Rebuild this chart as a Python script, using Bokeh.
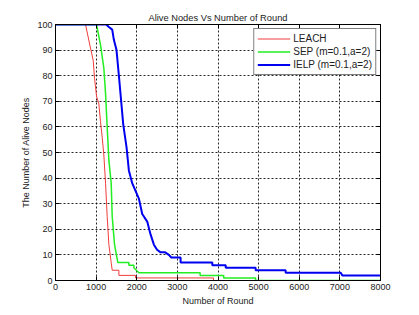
from bokeh.plotting import figure
from bokeh.models import LinearAxis, Legend, LegendItem, FixedTicker, Range1d, CustomJSTickFormatter
from bokeh.embed import file_html
from bokeh.resources import INLINE

# LEACH (vertices of the curve)
leach_rounds = [0, 739, 845, 928, 961, 1010, 1067, 1108, 1149, 1190, 1232, 1272, 1314, 1371, 1396, 1560, 1560, 1970, 1970, 3890, 3890, 8000]
leach_alive = [100, 100, 92, 86, 79, 72, 69, 62, 56, 49, 38, 25, 14, 7, 4, 4, 2, 2, 1, 1, 0, 0]
# SEP (m=0.1, a=2)
sep_rounds = [0, 1010, 1108, 1190, 1232, 1272, 1314, 1371, 1396, 1453, 1535, 1806, 1806, 1929, 1929, 1990, 2052, 3560, 3560, 4140, 4140, 4925, 4925, 8000]
sep_alive = [100, 100, 92, 83, 73, 60, 47, 38, 25, 14, 7, 7, 6, 6, 5, 4, 3, 3, 2, 2, 1, 1, 0, 0]
# IELP (m=0.1, a=2)
ielp_rounds = [0, 1250, 1314, 1396, 1437, 1502, 1560, 1617, 1667, 1749, 1806, 1888, 1970, 2052, 2135, 2258, 2340, 2422, 2500, 2586, 2700, 2791, 2850, 3079, 3079, 3860, 3860, 4190, 4190, 4926, 4926, 5665, 5665, 7020, 7060, 8000]
ielp_alive = [100, 100, 99, 98, 94, 90, 80, 70, 61, 52, 43, 38, 35, 32, 26, 23, 18, 14, 12, 11, 11, 10, 9, 9, 7, 7, 6, 6, 5, 5, 4, 4, 3, 3, 2, 2]

x_ticks = [0, 1000, 2000, 3000, 4000, 5000, 6000, 7000, 8000]
y_ticks = [0, 10, 20, 30, 40, 50, 60, 70, 80, 90, 100]

FONT = "Liberation Sans"

p = figure(width=419, height=315, output_backend="svg", toolbar_location=None,
           x_range=Range1d(0, 8000), y_range=Range1d(0, 100),
           x_axis_location=None, y_axis_location=None,
           min_border_left=55, min_border_right=39, min_border_top=24, min_border_bottom=35,
           title="Alive Nodes Vs Number of Round")
p.background_fill_color = "white"
p.border_fill_color = "white"
p.outline_line_color = "black"
p.outline_line_width = 1
p.title.align = "center"
p.title.text_font = FONT
p.title.text_font_size = "9.3px"
p.title.text_font_style = "normal"
p.title.text_color = "#222222"
p.title.offset = 0
p.title.standoff = 4

def mk_axis(loc, ticks, label=None, show_labels=True):
    ax = LinearAxis(ticker=FixedTicker(ticks=ticks))
    ax.major_tick_in = 4
    ax.major_tick_out = 0
    ax.minor_tick_line_color = None
    ax.axis_line_color = "black"
    ax.major_tick_line_color = "black"
    ax.major_label_text_font = FONT
    ax.major_label_text_font_size = "9px"
    ax.major_label_text_color = "#222222"
    ax.major_label_standoff = 3
    if not show_labels:
        ax.formatter = CustomJSTickFormatter(code="return ''")
        ax.major_label_standoff = 0
    if label:
        ax.axis_label = label
        ax.axis_label_text_font = FONT
        ax.axis_label_text_font_size = "9px"
        ax.axis_label_text_font_style = "normal"
        ax.axis_label_text_color = "#222222"
        ax.axis_label_standoff = 3
    p.add_layout(ax, loc)
    return ax

mk_axis("below", x_ticks, "Number of Round")
mk_axis("left", y_ticks, "The Number of Alive Nodes")
mk_axis("above", x_ticks, show_labels=False)
mk_axis("right", y_ticks, show_labels=False)

p.xgrid.ticker = FixedTicker(ticks=x_ticks)
p.ygrid.ticker = FixedTicker(ticks=y_ticks)
for g in (p.xgrid, p.ygrid):
    g.grid_line_color = "black"
    g.grid_line_dash = "2 2"
    g.grid_line_alpha = 0.85
    g.grid_line_width = 1

r1 = p.line(leach_rounds, leach_alive, line_color="#f03c3c", line_width=1)
r2 = p.line(sep_rounds, sep_alive, line_color="#22ee22", line_width=1.5)
r3 = p.line(ielp_rounds, ielp_alive, line_color="#0000f0", line_width=2)

legend = Legend(items=[LegendItem(label="LEACH", renderers=[r1]),
                       LegendItem(label="SEP (m=0.1,a=2)", renderers=[r2]),
                       LegendItem(label="IELP (m=0.1,a=2)", renderers=[r3])],
                location="top_right")
legend.label_text_font = FONT
legend.label_text_font_size = "10px"
legend.label_text_color = "#222222"
legend.border_line_color = "black"
legend.border_line_width = 1
legend.background_fill_color = "white"
legend.background_fill_alpha = 1
legend.glyph_width = 33
legend.glyph_height = 13
legend.label_height = 13
legend.spacing = 0
legend.padding = 3
legend.margin = 4
legend.label_standoff = 3
p.add_layout(legend, "center")

open("out.html", "w").write(file_html(p, INLINE))
